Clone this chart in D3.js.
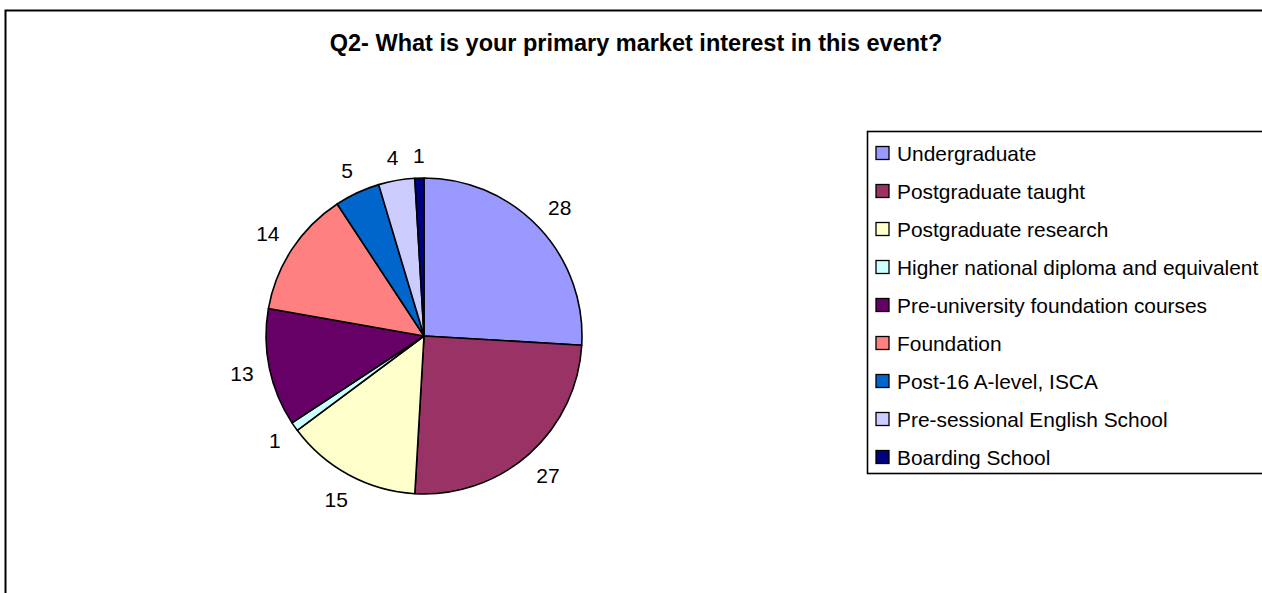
<!DOCTYPE html>
<html>
<head>
<meta charset="utf-8">
<script src="https://cdn.jsdelivr.net/npm/d3@7"></script>
<style>
  html, body { margin: 0; padding: 0; background: #fff; }
  svg { display: block; }
  text { font-family: "Liberation Sans", Arial, sans-serif; fill: #000; }
</style>
</head>
<body>
<svg id="chart" width="1262" height="593"></svg>
<script>
// Survey answers: primary market interest
const categories = [
  "Undergraduate",
  "Postgraduate taught",
  "Postgraduate research",
  "Higher national diploma and equivalent",
  "Pre-university foundation courses",
  "Foundation",
  "Post-16 A-level, ISCA",
  "Pre-sessional English School",
  "Boarding School"
];
const counts = [28, 27, 15, 1, 13, 14, 5, 4, 1];
const colors = ["#9999FF", "#993366", "#FFFFCC", "#CCFFFF", "#660066",
                "#FF8080", "#0066CC", "#CCCCFF", "#000080"];
const title = "Q2- What is your primary market interest in this event?";

const svg = d3.select("#chart");

// outer chart frame (runs off the right and bottom edges)
svg.append("rect")
  .attr("x", 5.5).attr("y", 10.5)
  .attr("width", 1400).attr("height", 800)
  .attr("fill", "#fff").attr("stroke", "#000").attr("stroke-width", 2);

svg.append("text")
  .attr("x", 636).attr("y", 51)
  .attr("text-anchor", "middle")
  .style("font-weight", "bold").style("font-size", "23.5px")
  .text(title);

// pie
const cx = 424, cy = 336, r = 158;
const data = categories.map((c, i) => ({ name: c, value: counts[i], color: colors[i] }));
const pie = d3.pie().value(d => d.value).sort(null);
const arcs = pie(data);
const arc = d3.arc().innerRadius(0).outerRadius(r);

const g = svg.append("g").attr("transform", `translate(${cx},${cy})`);
g.selectAll("path.slice")
  .data(arcs).enter().append("path")
  .attr("class", "slice")
  .attr("d", arc)
  .attr("fill", d => d.data.color)
  .attr("stroke", "#000").attr("stroke-width", 1.6)
  .attr("stroke-linejoin", "round");

// value labels sit just outside the rim, pushed out by half their box
const labels = g.selectAll("text.val")
  .data(arcs).enter().append("text")
  .attr("class", "val")
  .attr("text-anchor", "middle")
  .attr("dy", "0.36em")
  .style("font-size", "21px")
  .text(d => d.data.value);
labels.each(function(d) {
  const w = this.getComputedTextLength(), h = 15;
  const a = (d.startAngle + d.endAngle) / 2;
  const sx = Math.sin(a), sy = -Math.cos(a);
  const dist = r + 15 + Math.abs(sx) * w / 2 + Math.abs(sy) * h / 2;
  d3.select(this).attr("transform", `translate(${sx * dist},${sy * dist})`);
});

// legend
const lx = 867, ly = 131, rowH = 38;
svg.append("rect")
  .attr("x", lx + 0.5).attr("y", ly + 0.5)
  .attr("width", 500).attr("height", 342)
  .attr("fill", "#fff").attr("stroke", "#000").attr("stroke-width", 1.6);

const rowY = d3.scalePoint().domain(categories).range([153, 153 + rowH * (categories.length - 1)]);
const lg = svg.append("g");
const rows = lg.selectAll("g.row").data(data).enter().append("g")
  .attr("class", "row")
  .attr("transform", d => `translate(${lx},${rowY(d.name)})`);
rows.append("rect")
  .attr("x", 9).attr("y", -6.5)
  .attr("width", 13).attr("height", 13)
  .attr("fill", d => d.color)
  .attr("stroke", "#000").attr("stroke-width", 1.3);
rows.append("text")
  .attr("x", 30).attr("y", 7.6)
  .style("font-size", "20.9px")
  .text(d => d.name);
</script>
</body>
</html>
